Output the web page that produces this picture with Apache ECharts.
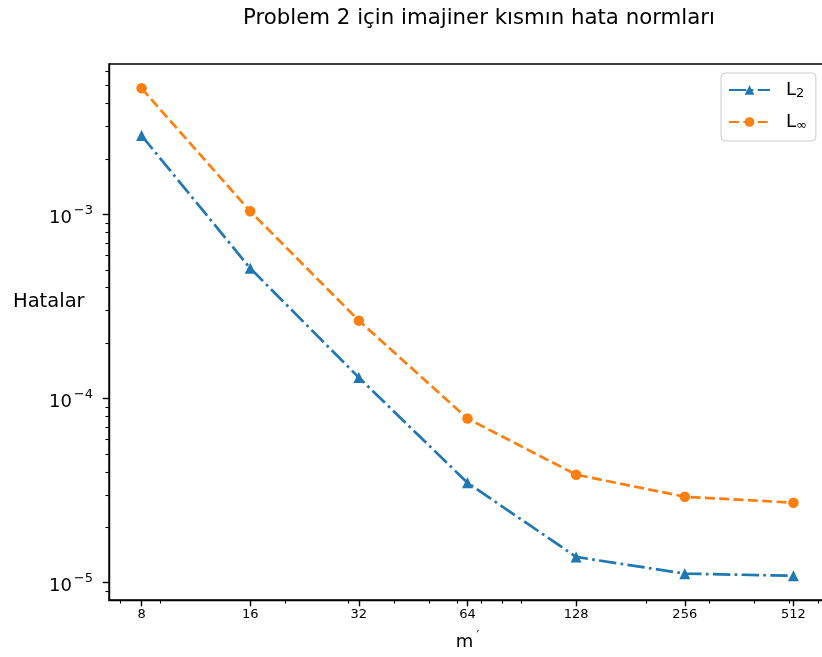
<!DOCTYPE html>
<html>
<head>
<meta charset="utf-8">
<script src="https://cdn.jsdelivr.net/npm/echarts@6/dist/echarts.min.js"></script>
<style>html,body{margin:0;padding:0;background:#fff}#c{width:822px;height:657px}</style>
</head>
<body>
<div id="c"></div>
<script>
const categories = [8, 16, 32, 64, 128, 256, 512];
const l2Values = [2.68e-3, 5.1e-4, 1.3e-4, 3.49e-5, 1.38e-5, 1.12e-5, 1.09e-5];
const linfValues = [4.84e-3, 1.04e-3, 2.65e-4, 7.79e-5, 3.86e-5, 2.93e-5, 2.72e-5];
const xTickLabels = [8, 16, 32, 64, 128, 256, 512];
const xMinorTicks = [7, 9, 20, 30, 40, 50, 60, 70, 80, 90, 200, 300, 400, 500, 600];
const yTickLabels = [1e-5, 1e-4, 1e-3];
const yMinorTicks = [8e-6, 9e-6, 2e-5, 3e-5, 4e-5, 5e-5, 6e-5, 7e-5, 8e-5, 9e-5,
  2e-4, 3e-4, 4e-4, 5e-4, 6e-4, 7e-4, 8e-4, 9e-4, 2e-3, 3e-3, 4e-3, 5e-3, 6e-3];

const FONT = '"DejaVu Sans", sans-serif';
const XMIN = Math.pow(2, 2.7), XMAX = Math.pow(2, 9.3);
const YMIN = Math.pow(10, -5.094), YMAX = Math.pow(10, -2.183);
const k = 130 / 72;
const lw = 1.5 * k;

function pairs(vals) { return categories.map((c, i) => [c, vals[i]]); }

const chart = echarts.init(document.getElementById('c'), null, {renderer: 'canvas'});
const baseX = {
  type: 'log', logBase: 2, min: XMIN, max: XMAX, gridIndex: 0,
  splitLine: {show: false}, minorTick: {show: false}, minorSplitLine: {show: false}
};
const baseY = {
  type: 'log', logBase: 10, min: YMIN, max: YMAX, gridIndex: 0,
  splitLine: {show: false}, minorTick: {show: false}, minorSplitLine: {show: false}
};
const option = {
  animation: false,
  backgroundColor: '#fff',
  title: [{
    text: 'Problem 2 için imajiner kısmın hata normları',
    left: 474, top: 3, textAlign: 'center',
    textStyle: {fontFamily: FONT, fontSize: 21.3, fontWeight: 'normal', color: '#000'}
  }, {
    text: 'Hatalar', left: 8, top: 287,
    textStyle: {fontFamily: FONT, fontSize: 19.5, fontWeight: 'normal', color: '#000'}
  }],
  legend: {
    orient: 'vertical', left: 721, top: 73,
    padding: [7, 9, 9, 7], itemGap: 12, itemWidth: 41, itemHeight: 12,
    borderColor: '#cccccc', borderWidth: 1, borderRadius: 4, backgroundColor: 'rgba(255,255,255,0.8)',
    formatter: function (name) {
      return name === 'L2' ? '{m|L}{s|2}' : '{m|L}{s|∞}';
    },
    textStyle: {
      fontFamily: FONT, color: '#000',
      rich: {
        m: {fontFamily: FONT, fontSize: 18, color: '#000', lineHeight: 22, padding: [0, 0, 0, 11]},
        s: {fontFamily: FONT, fontSize: 13, color: '#000', lineHeight: 22, padding: [7, 0, 0, 0]}
      }
    },
    data: ['L2', 'L∞']
  },
  grid: {left: 109, top: 64, width: 717, height: 536, outerBoundsMode: 'none', containLabel: false,
    show: true, borderColor: '#000', borderWidth: 1.4, backgroundColor: 'transparent'},
  xAxis: [
    Object.assign({}, baseX, {
      position: 'bottom',
      name: '{m|m}{p|′}', nameLocation: 'middle', nameGap: 30,
      nameTextStyle: {
        rich: {
          m: {fontFamily: FONT, fontSize: 18, color: '#000', lineHeight: 24},
          p: {fontFamily: FONT, fontSize: 12, color: '#000', lineHeight: 24, padding: [0, 0, 12, 3]}
        }
      },
      axisLine: {show: true, lineStyle: {color: '#000', width: 1.4}},
      axisTick: {show: true, length: 6.3, inside: false, customValues: xTickLabels, lineStyle: {color: '#000', width: 1.4}},
      axisLabel: {show: true, customValues: xTickLabels, margin: 8, fontFamily: FONT, fontSize: 13, color: '#000',
        formatter: function (v) { return String(Math.round(v)); }}
    }),
    Object.assign({}, baseX, {
      position: 'bottom',
      axisLine: {show: false},
      axisTick: {show: true, length: 3.6, inside: false, customValues: xMinorTicks, lineStyle: {color: '#000', width: 1.1}},
      axisLabel: {show: false}
    })
  ],
  yAxis: [
    Object.assign({}, baseY, {
      position: 'left',
      axisLine: {show: true, lineStyle: {color: '#000', width: 1.4}},
      axisTick: {show: true, length: 6.3, inside: false, customValues: yTickLabels, lineStyle: {color: '#000', width: 1.4}},
      axisLabel: {show: true, customValues: yTickLabels, margin: 16,
        formatter: function (v) {
          const e = Math.round(Math.log10(v));
          return '{b|10}{s|−' + Math.abs(e) + '}';
        },
        rich: {
          b: {fontFamily: FONT, fontSize: 18, color: '#000', lineHeight: 26, padding: [8, 0, 0, 0]},
          s: {fontFamily: FONT, fontSize: 13, color: '#000', lineHeight: 26, padding: [0, 0, 8, 2]}
        }
      }
    }),
    Object.assign({}, baseY, {
      position: 'left',
      axisLine: {show: false},
      axisTick: {show: true, length: 3.6, inside: false, customValues: yMinorTicks, lineStyle: {color: '#000', width: 1.1}},
      axisLabel: {show: false}
    })
  ],
  series: [
    {
      name: 'L2', type: 'line', xAxisIndex: 0, yAxisIndex: 0,
      data: pairs(l2Values),
      symbol: 'triangle', symbolSize: 11, showSymbol: true,
      itemStyle: {color: '#1f77b4'},
      lineStyle: {color: '#1f77b4', width: lw, type: [6.4 * lw, 1.6 * lw, 1 * lw, 1.6 * lw], cap: 'butt'},
      z: 3
    },
    {
      name: 'L∞', type: 'line', xAxisIndex: 0, yAxisIndex: 0,
      data: pairs(linfValues),
      symbol: 'circle', symbolSize: 10.5, showSymbol: true,
      itemStyle: {color: '#ff7f0e'},
      lineStyle: {color: '#ff7f0e', width: lw, type: [3.7 * lw, 1.6 * lw], cap: 'butt'},
      z: 4
    }
  ]
};
chart.setOption(option);
</script>
</body>
</html>
